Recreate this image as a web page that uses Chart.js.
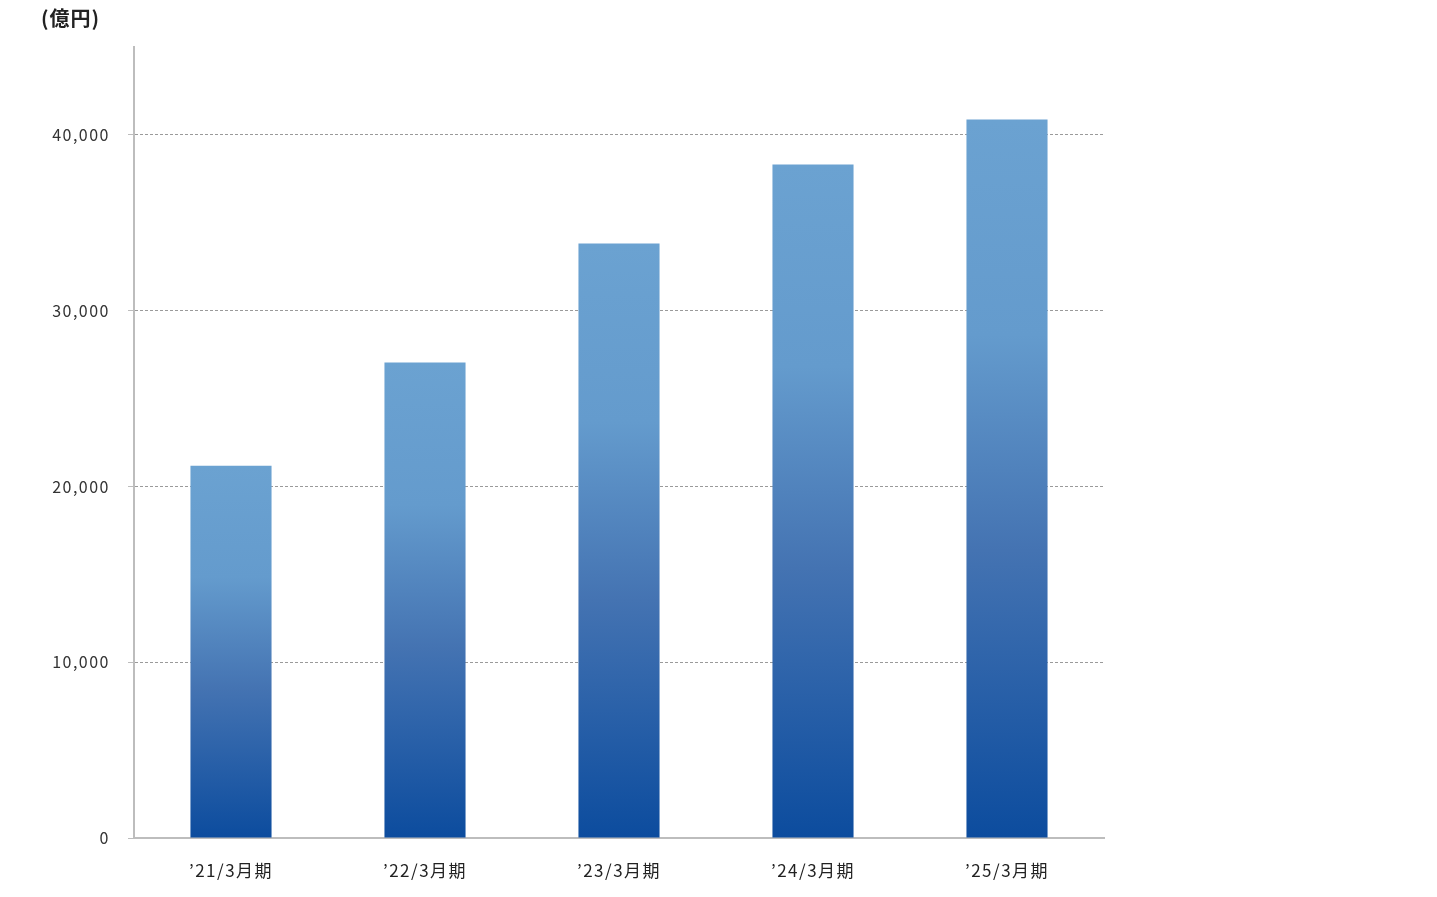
<!DOCTYPE html>
<html lang="ja">
<head>
<meta charset="utf-8">
<title>売上高推移</title>
<script src="https://cdn.jsdelivr.net/npm/chart.js@4/dist/chart.umd.min.js"></script>
<style>
    html, body { margin: 0; padding: 0; background: #fff; }
    #wrap { width: 1437px; height: 897px; position: relative; }
</style>
</head>
<body>
<div id="wrap"><canvas id="salesChart"></canvas></div>
<script>
    // 年度ラベルと売上高（億円）
    const periods = ['’21/3月期', '’22/3月期', '’23/3月期', '’24/3月期', '’25/3月期'];
    const sales   = [21180, 27050, 33820, 38320, 40880];
    const yTicks  = [0, 10000, 20000, 30000, 40000];
    const unitLabel = '(億円)';

    const FONT = '"Noto Sans CJK JP", "Noto Sans", sans-serif';

    // 棒ごとのグラデーション（上が明るく、下が濃い）
    function barGradient(ctx) {
        const chart = ctx.chart;
        const y = chart.scales && chart.scales.y;
        if (!y || ctx.raw === undefined) return '#3f6fb0';
        const top = y.getPixelForValue(ctx.raw);
        const bottom = y.getPixelForValue(0);
        if (!isFinite(top) || !isFinite(bottom) || top === bottom) return '#3f6fb0';
        const g = chart.ctx.createLinearGradient(0, top, 0, bottom);
        g.addColorStop(0, '#6ba2d1');
        g.addColorStop(0.3, '#649bcd');
        g.addColorStop(0.6, '#4473b2');
        g.addColorStop(1, '#0c4c9e');
        return g;
    }

    // 文字間を少し広げる＋左上の単位表示
    const textPlugin = {
        id: 'textTweaks',
        beforeDraw(chart) {
            chart.ctx.letterSpacing = '1.5px';
        },
        afterDraw(chart) {
            const c = chart.ctx;
            c.save();
            c.letterSpacing = '1px';
            c.font = 'bold 20px ' + FONT;
            c.fillStyle = '#222';
            c.textAlign = 'left';
            c.textBaseline = 'middle';
            c.fillText(unitLabel, 41, 18);
            c.restore();
            c.letterSpacing = '0px';
        }
    };

    new Chart(document.getElementById('salesChart'), {
        type: 'bar',
        data: {
            labels: periods,
            datasets: [{
                data: sales,
                backgroundColor: barGradient,
                borderWidth: 0,
                categoryPercentage: 1,
                barPercentage: 0.418
            }]
        },
        options: {
            responsive: true,
            maintainAspectRatio: false,
            animation: false,
            layout: { padding: { top: 47, right: 333, left: 0, bottom: 0 } },
            plugins: {
                legend: { display: false },
                tooltip: { enabled: false }
            },
            scales: {
                x: {
                    grid: { display: false, drawTicks: false },
                    border: { color: '#bdbdbd', width: 2 },
                    ticks: {
                        color: '#222',
                        font: { family: FONT, size: 17 },
                        padding: 22
                    },
                    afterFit(scale) { scale.height = 59; }
                },
                y: {
                    min: 0,
                    max: 45000,
                    afterBuildTicks(scale) {
                        scale.ticks = yTicks.map(v => ({ value: v }));
                    },
                    grid: {
                        color: '#9a9a9a',
                        lineWidth: 1,
                        tickLength: 6,
                        tickColor: '#bdbdbd',
                        tickBorderDash: [],
                        drawTicks: true
                    },
                    border: { color: '#bdbdbd', width: 2, dash: [3, 2] },
                    ticks: {
                        color: '#333',
                        font: { family: FONT, size: 16 },
                        padding: 18,
                        callback: v => v.toLocaleString('en-US')
                    },
                    afterFit(scale) { scale.width = 134; }
                }
            }
        },
        plugins: [textPlugin]
    });
</script>
</body>
</html>
